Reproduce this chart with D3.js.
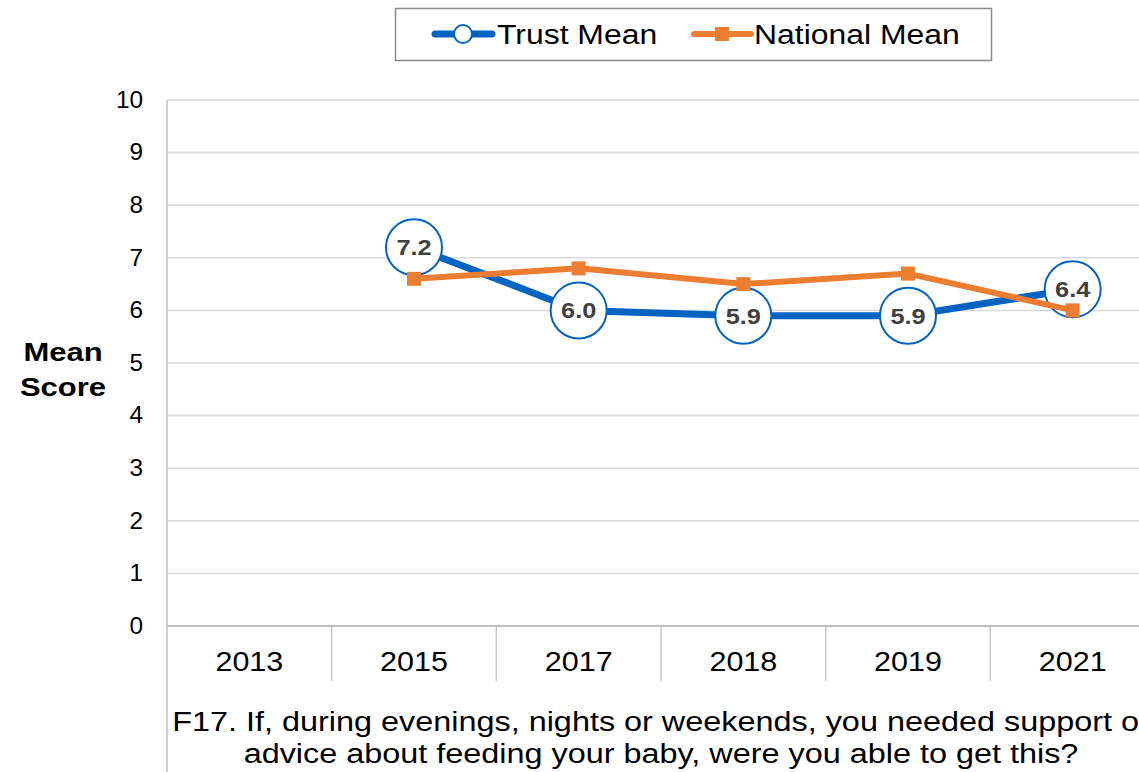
<!DOCTYPE html>
<html>
<head>
<meta charset="utf-8">
<script src="https://cdn.jsdelivr.net/npm/d3@7"></script>
<style>
  html, body { margin: 0; padding: 0; background: #fff; overflow: hidden; }
  svg { display: block; font-family: "Liberation Sans", Arial, sans-serif; }
</style>
</head>
<body>
<svg id="chart" width="1139" height="772"></svg>
<script>
// Survey years along the category axis
const years = ["2013", "2015", "2017", "2018", "2019", "2021"];
// Trust mean score per year (no result for 2013)
const trustMean = [null, 7.2, 6.0, 5.9, 5.9, 6.4];
// National mean score per year (no result for 2013)
const nationalMean = [null, 6.6, 6.8, 6.5, 6.7, 6.0];
// Value-axis ticks
const yTicks = [0, 1, 2, 3, 4, 5, 6, 7, 8, 9, 10];
const seriesNames = ["Trust Mean", "National Mean"];
const questionLines = [
  "F17. If, during evenings, nights or weekends, you needed support or",
  "advice about feeding your baby, were you able to get this?"
];

const blue = "#0563C1";
const orange = "#ED7D31";
const grid = "#d9d9d9";

const svg = d3.select("#chart");
const plot = { left: 167, right: 1155, top: 100, bottom: 626 };

const x = d3.scaleBand().domain(years).range([plot.left, plot.right]).padding(0);
const y = d3.scaleLinear().domain([0, 10]).range([plot.bottom, plot.top]);
const cx = yr => x(yr) + x.bandwidth() / 2;

// Text with a slightly wide set, as in the report's chart style
function wideText(parent, tx, ty, str, size, sx, anchor, weight) {
  return parent.append("text")
    .attr("transform", `translate(${tx},${ty}) scale(${sx},1)`)
    .attr("text-anchor", anchor || "middle")
    .attr("font-size", size)
    .attr("font-weight", weight || "normal")
    .attr("fill", "#000")
    .text(str);
}

// Horizontal gridlines
svg.append("g")
  .selectAll("line")
  .data(yTicks.filter(t => t > 0))
  .join("line")
  .attr("x1", plot.left).attr("x2", plot.right)
  .attr("y1", d => y(d)).attr("y2", d => y(d))
  .attr("stroke", grid).attr("stroke-width", 1.5);

// Value axis labels
const yAxis = d3.axisLeft(y).tickValues(yTicks).tickSize(0).tickPadding(0).tickFormat(d3.format("d"));
const yg = svg.append("g").attr("transform", `translate(${plot.left - 24},0)`).call(yAxis);
yg.select(".domain").remove();
yg.selectAll("text")
  .attr("font-size", 23).attr("fill", "#000")
  .attr("font-family", "Liberation Sans, Arial, sans-serif")
  .attr("transform", "scale(1.06,1)")
  .attr("x", 0);

// Left axis line runs down through the category labels and question text
svg.append("line")
  .attr("x1", plot.left).attr("x2", plot.left)
  .attr("y1", plot.top).attr("y2", 772)
  .attr("stroke", "#bfbfbf").attr("stroke-width", 1.5);

// Baseline at zero
svg.append("line")
  .attr("x1", plot.left).attr("x2", plot.right)
  .attr("y1", plot.bottom).attr("y2", plot.bottom)
  .attr("stroke", "#bfbfbf").attr("stroke-width", 2);

// Category separators and labels
const catG = svg.append("g");
catG.selectAll("line")
  .data(years.slice(1))
  .join("line")
  .attr("x1", d => x(d)).attr("x2", d => x(d))
  .attr("y1", plot.bottom).attr("y2", 681)
  .attr("stroke", "#c8c8c8").attr("stroke-width", 1.5);
years.forEach(yr => wideText(catG, cx(yr), 671, yr, 28, 1.09));

// Question text below the categories
const qG = svg.append("g");
questionLines.forEach((s, i) =>
  wideText(qG, (plot.left + plot.right) / 2, 731 + i * 32, s, 28, 1.157));

// Axis title
const tG = svg.append("g");
wideText(tG, 63, 361, "Mean", 25, 1.24, "middle", "bold");
wideText(tG, 63, 396, "Score", 25, 1.24, "middle", "bold");

// Series points
const pts = vals => years.map((yr, i) => ({ yr, v: vals[i] })).filter(d => d.v !== null);
const line = d3.line().x(d => cx(d.yr)).y(d => y(d.v));
const trustPts = pts(trustMean);
const natPts = pts(nationalMean);

// Trust line and circular markers with value labels
svg.append("path").datum(trustPts)
  .attr("d", line).attr("fill", "none")
  .attr("stroke", blue).attr("stroke-width", 7).attr("stroke-linejoin", "round");

const tg = svg.append("g").selectAll("g")
  .data(trustPts)
  .join("g")
  .attr("transform", d => `translate(${cx(d.yr)},${y(d.v)})`);
tg.append("circle")
  .attr("r", 28).attr("fill", "#fff")
  .attr("stroke", blue).attr("stroke-width", 2);
tg.append("text")
  .attr("text-anchor", "middle").attr("dy", "0.36em")
  .attr("transform", "scale(1.15,1)")
  .attr("font-size", 22).attr("font-weight", "bold").attr("fill", "#404040")
  .text(d => d.v.toFixed(1));

// National line and square markers, drawn above the trust series
svg.append("path").datum(natPts)
  .attr("d", line).attr("fill", "none")
  .attr("stroke", orange).attr("stroke-width", 6).attr("stroke-linejoin", "round");

svg.append("g").selectAll("rect")
  .data(natPts)
  .join("rect")
  .attr("x", d => cx(d.yr) - 7)
  .attr("y", d => y(d.v) - 7)
  .attr("width", 14).attr("height", 14)
  .attr("fill", orange);

// Legend
const lg = svg.append("g");
lg.append("rect")
  .attr("x", 395.5).attr("y", 8.5).attr("width", 596).attr("height", 52)
  .attr("fill", "#fff").attr("stroke", "#8c8c8c").attr("stroke-width", 1.5);

const leg1 = lg.append("g").attr("transform", "translate(435,34)");
leg1.append("line").attr("x1", 0).attr("x2", 57).attr("stroke", blue)
  .attr("stroke-width", 7).attr("stroke-linecap", "round");
leg1.append("circle").attr("cx", 28).attr("r", 9)
  .attr("fill", "#fff").attr("stroke", blue).attr("stroke-width", 2);
wideText(leg1, 62, 10, seriesNames[0], 28, 1.14, "start");

const leg2 = lg.append("g").attr("transform", "translate(694,34)");
leg2.append("line").attr("x1", 0).attr("x2", 57).attr("stroke", orange)
  .attr("stroke-width", 6).attr("stroke-linecap", "round");
leg2.append("rect").attr("x", 21).attr("y", -7).attr("width", 14).attr("height", 14)
  .attr("fill", orange);
wideText(leg2, 60, 10, seriesNames[1], 28, 1.14, "start");
</script>
</body>
</html>
